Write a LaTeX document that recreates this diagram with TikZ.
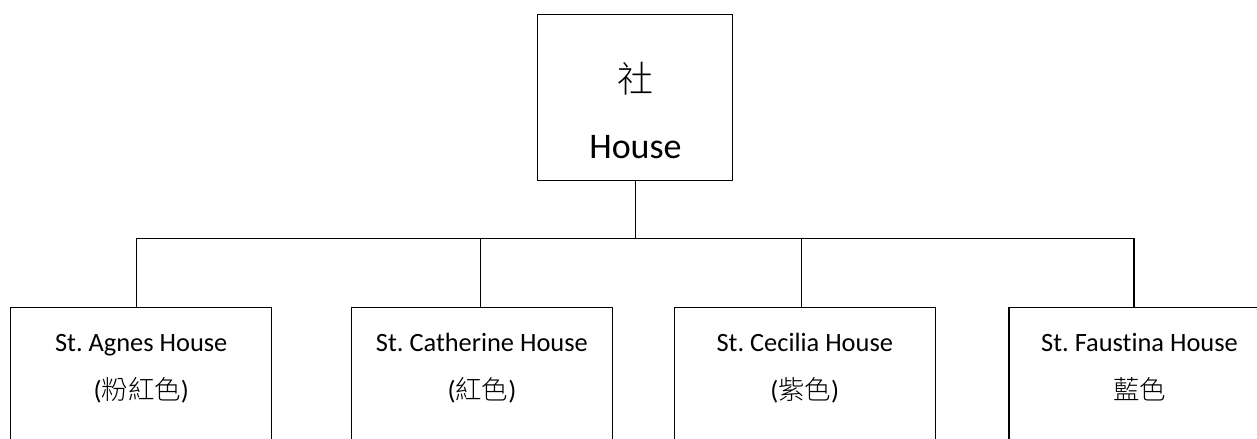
\documentclass[tikz,border=0pt]{standalone}
\usepackage{fontspec}
\setmainfont{Carlito}[Ligatures=NoCommon]
\newfontfamily\cjk{Noto Sans CJK TC Light}
\frenchspacing
\begin{document}
\begin{tikzpicture}[x=0.75pt,y=-0.75pt,
  boxshape/.style={draw=black,line width=1pt,inner sep=0pt,minimum width=#1,minimum height=150pt},
  txt/.style={anchor=base,inner sep=0pt,text=black},
  bigtxt/.style={txt,font=\fontsize{27}{32}\selectfont},
  smalltxt/.style={txt,font=\fontsize{19.8}{24}\selectfont},
  wire/.style={draw=black,line width=1pt}]
\useasboundingbox (0,0) rectangle (1257,439);
\clip (0,0) rectangle (1257,439);
% top box
\node[draw=black,line width=1pt,inner sep=0pt,minimum width=146.25pt,minimum height=124.5pt] (top) at (635.2,97.2) {};
\node[bigtxt] (topcn) at (635,92) {\cjk 社};
\node[bigtxt] (topen) at (635.5,158.3) {House};
% bottom boxes
\node[boxshape=195.75pt] (b1) at (141.2,407.7) {};
\node[boxshape=195.75pt] (b2) at (481.9,407.7) {};
\node[boxshape=195.75pt] (b3) at (804.8,407.7) {};
\node[boxshape=195.75pt] (b4) at (1139.5,407.7) {};
% texts
\node[smalltxt] (t1a) at (141.2,351.7) {St. Agnes House};
\node[smalltxt] (t1b) at (141.2,399) {(\cjk 粉紅色\rmfamily)};
\node[smalltxt] (t2a) at (481.9,351.7) {St. Catherine House};
\node[smalltxt] (t2b) at (481.9,399) {(\cjk 紅色\rmfamily)};
\node[smalltxt] (t3a) at (804.8,351.7) {St. Cecilia House};
\node[smalltxt] (t3b) at (804.8,399) {(\cjk 紫色\rmfamily)};
\node[smalltxt] (t4a) at (1139.5,351.7) {St. Faustina House};
\node[smalltxt] (t4b) at (1139.5,399) {\cjk 藍色};
% connectors
\coordinate (hub) at (635.2,238.3);
\coordinate (c1) at (136.7,238.3);
\coordinate (c2) at (480.3,238.3);
\coordinate (c3) at (801.7,238.3);
\coordinate (c4) at (1134,238.3);
\draw[wire] (top.south) -- (hub);
\draw[wire] (c1) -- (c4);
\draw[wire] (c1) -- (c1 |- b1.north);
\draw[wire] (c2) -- (c2 |- b2.north);
\draw[wire] (c3) -- (c3 |- b3.north);
\draw[wire] (c4) -- (c4 |- b4.north);
\end{tikzpicture}
\end{document}
